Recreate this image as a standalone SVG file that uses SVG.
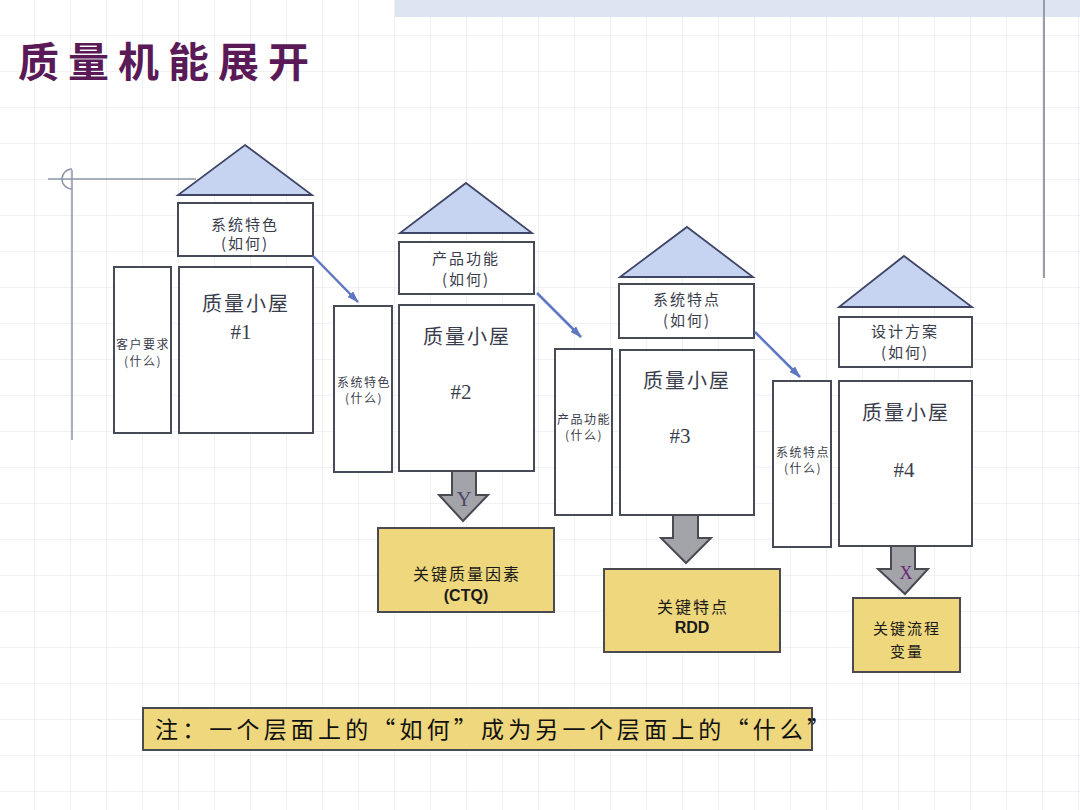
<svg xmlns="http://www.w3.org/2000/svg" width="1080" height="810" viewBox="0 0 1080 810">
<defs>
<pattern id="grid" patternUnits="userSpaceOnUse" x="-2" y="-1" width="36" height="36">
<path d="M0 0H36M0 0V36" fill="none" stroke="#e3e6ed" stroke-width="1.2"/>
</pattern>
<marker id="ah" viewBox="0 0 12 8" refX="11" refY="4" markerWidth="12" markerHeight="8" markerUnits="userSpaceOnUse" orient="auto">
<path d="M0 0L12 4L0 8z" fill="#5d77c2"/>
</marker>
<style>
.box{fill:#fff;stroke:#474b58;stroke-width:2}
.roof{fill:#c6d4f2;stroke:#3f4566;stroke-width:1.8}
.yel{fill:#eed77c;stroke:#4a4a50;stroke-width:2}
.blk{fill:#a3a3aa;stroke:#4a4a52;stroke-width:2}
.conn{stroke:#5d77c2;stroke-width:2.5;fill:none}
.t{font-family:"Noto Sans CJK SC",sans-serif;fill:#3a3d4c;text-anchor:middle}
.hd{font-size:15px;letter-spacing:2px}
.mn{font-size:20px;letter-spacing:2px}
.num{font-family:"Liberation Serif",serif;font-size:21px;fill:#3a3d4c;text-anchor:middle}
.sm{font-size:12px;letter-spacing:1.5px}
.yt{font-family:"Noto Sans CJK SC",sans-serif;font-size:16px;fill:#1a1a1a;text-anchor:middle;letter-spacing:2px}
.yt2{font-family:"Noto Sans CJK SC",sans-serif;font-size:15px;fill:#1a1a1a;text-anchor:middle;letter-spacing:2px}
.yb{font-family:"Liberation Sans",sans-serif;font-size:16px;font-weight:bold;fill:#1a1a1a;text-anchor:middle}
</style>
</defs>
<rect width="1080" height="810" fill="#fff"/>
<rect width="1080" height="810" fill="url(#grid)"/>
<rect x="395" y="0" width="685" height="17" fill="#dde5f3"/>
<line x1="1044" y1="0" x2="1044" y2="278" stroke="#9a9ca8" stroke-width="2"/>
<g id="margin-marks" fill="none" stroke="#8c94a8" stroke-width="1.5">
<line x1="48" y1="179" x2="196" y2="179"/>
<line x1="72" y1="170" x2="72" y2="440"/>
<path d="M72 169A10 10 0 0 0 72 189"/>
</g>
<text x="18" y="77" font-family="Noto Sans CJK SC,sans-serif" font-size="41" font-weight="bold" fill="#5a1a58" letter-spacing="9">质量机能展开</text>

<g id="house1">
<polygon class="roof" points="245,145 312,195 178,195"/>
<rect class="box" x="178" y="203" width="135" height="53"/>
<text class="t hd" x="245" y="230">系统特色</text>
<text class="t hd" x="245" y="249">(如何)</text>
<rect class="box" x="179" y="267" width="134" height="166"/>
<text class="t mn" x="246" y="311">质量小屋</text>
<text class="num" x="241" y="339">#1</text>
<rect class="box" x="114" y="267" width="57" height="166"/>
<text class="t sm" x="143" y="349">客户要求</text>
<text class="t sm" x="143" y="366">(什么)</text>
</g>

<g id="house2">
<polygon class="roof" points="466,183 532,233 400,233"/>
<rect class="box" x="399" y="242" width="135" height="52"/>
<text class="t hd" x="466" y="264">产品功能</text>
<text class="t hd" x="466" y="285">(如何)</text>
<rect class="box" x="399" y="305" width="135" height="166"/>
<text class="t mn" x="467" y="344">质量小屋</text>
<text class="num" x="461" y="399">#2</text>
<rect class="box" x="334" y="306" width="58" height="166"/>
<text class="t sm" x="364" y="387">系统特色</text>
<text class="t sm" x="364" y="403">(什么)</text>
</g>

<g id="house3">
<polygon class="roof" points="687,227 753,277 620,277"/>
<rect class="box" x="619" y="284" width="135" height="54"/>
<text class="t hd" x="687" y="305">系统特点</text>
<text class="t hd" x="687" y="326">(如何)</text>
<rect class="box" x="620" y="350" width="134" height="165"/>
<text class="t mn" x="687" y="388">质量小屋</text>
<text class="num" x="680" y="443">#3</text>
<rect class="box" x="555" y="349" width="57" height="166"/>
<text class="t sm" x="584" y="424">产品功能</text>
<text class="t sm" x="584" y="440">(什么)</text>
</g>

<g id="house4">
<polygon class="roof" points="904,256 972,307 839,307"/>
<rect class="box" x="839" y="317" width="133" height="50"/>
<text class="t hd" x="905" y="337">设计方案</text>
<text class="t hd" x="905" y="358">(如何)</text>
<rect class="box" x="839" y="381" width="133" height="165"/>
<text class="t mn" x="906" y="420">质量小屋</text>
<text class="num" x="904" y="477">#4</text>
<rect class="box" x="773" y="381" width="58" height="166"/>
<text class="t sm" x="803" y="457">系统特点</text>
<text class="t sm" x="803" y="473">(什么)</text>
</g>

<g id="connectors">
<line class="conn" x1="313" y1="256" x2="358" y2="302" marker-end="url(#ah)"/>
<line class="conn" x1="537" y1="293" x2="581" y2="337" marker-end="url(#ah)"/>
<line class="conn" x1="755" y1="332" x2="800" y2="377" marker-end="url(#ah)"/>
</g>

<g id="outY">
<polygon class="blk" points="452,471 476,471 476,495 488,495 463,521 439,495 452,495"/>
<text x="464" y="506" font-family="Liberation Serif,serif" font-size="21" fill="#4a4a66" text-anchor="middle">Y</text>
<rect class="yel" x="378" y="528" width="176" height="84"/>
<text class="yt" x="467" y="580">关键质量因素</text>
<text class="yb" x="466" y="601">(CTQ)</text>
</g>

<g id="outRDD">
<polygon class="blk" points="673,515 698,515 698,538 711,538 686,563 661,538 673,538"/>
<rect class="yel" x="604" y="569" width="176" height="83"/>
<text class="yt" x="693" y="613">关键特点</text>
<text class="yb" x="692" y="633">RDD</text>
</g>

<g id="outX">
<polygon class="blk" points="891,546 915,546 915,569 928,569 905,594 878,569 891,569"/>
<text x="906" y="579" font-family="Liberation Serif,serif" font-size="18" fill="#6a2a7a" text-anchor="middle">X</text>
<rect class="yel" x="853" y="598" width="107" height="74"/>
<text class="yt2" x="907" y="634">关键流程</text>
<text class="yt2" x="907" y="657">变量</text>
</g>

<g id="note">
<rect class="yel" x="143" y="708" width="669" height="42"/>
<text x="155" y="738" font-family="Noto Sans CJK SC,sans-serif" font-size="23" fill="#111" textLength="675" lengthAdjust="spacing">注：一个层面上的“如何”成为另一个层面上的“什么”</text>
</g>
</svg>
